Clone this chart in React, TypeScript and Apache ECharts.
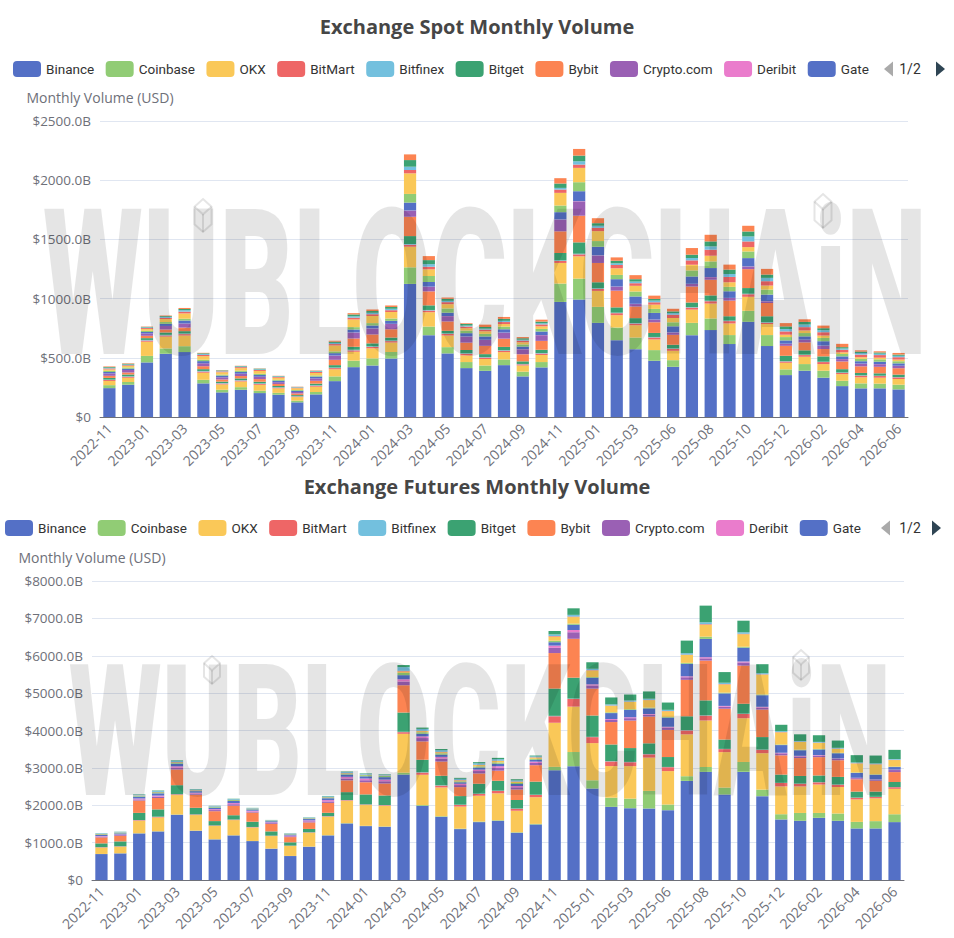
import React, { useEffect, useRef } from "react";
import * as echarts from "echarts";

const months = [
  "2022-11","2022-12","2023-01","2023-02","2023-03","2023-04","2023-05","2023-06","2023-07","2023-08",
  "2023-09","2023-10","2023-11","2023-12","2024-01","2024-02","2024-03","2024-04","2024-05","2024-06",
  "2024-07","2024-08","2024-09","2024-10","2024-11","2024-12","2025-01","2025-02","2025-03","2025-04",
  "2025-06","2025-07","2025-08","2025-09","2025-10","2025-11","2025-12","2026-01","2026-02","2026-03",
  "2026-04","2026-05","2026-06",
];

const exchanges = [
  "Binance","Coinbase","OKX","BitMart","Bitfinex","Bitget","Bybit","Crypto.com",
  "Deribit","Gate","HTX","Hyperliquid","Kraken","KuCoin","MEXC","Upbit",
];
// the first legend page shows ten names; "1/2" marks the pager
const legendPage1 = exchanges.slice(0, 10);
const pagerText = "1/2";

const spotYTicks = [0, 500, 1000, 1500, 2000, 2500];
const futYTicks = [0, 1000, 2000, 3000, 4000, 5000, 6000, 7000, 8000];

// Spot monthly volume (billion USD)
const spotBinance = [244,272,461,534,548,284,208,230,202,188,124,191,303,421,435,494,1124,691,537,413,390,438,343,419,972,992,795,649,573,475,424,691,734,616,804,599,354,391,332,261,242,242,233];
const spotCoinbase = [25,24,55,45,50,30,22,22,20,16,14,20,40,55,60,55,140,73,53,51,45,48,40,45,155,177,135,107,98,90,56,104,98,76,93,93,48,56,59,45,42,40,40];
const spotOKX = [35,36,120,100,90,60,45,48,50,38,30,45,60,75,85,80,174,121,98,56,55,62,52,60,174,188,135,104,104,90,79,112,126,98,118,93,56,62,56,56,51,50,48];
const spotBitMart = [8,8,10,10,12,10,8,8,8,6,5,8,10,12,12,12,17,14,14,14,12,12,10,12,17,17,17,17,14,17,17,17,20,20,22,11,11,14,17,11,14,14,14];
const spotBitfinex = [4,4,5,5,5,5,4,4,4,3,3,4,5,5,5,5,6,5,4,4,4,4,3,4,5,5,5,4,4,4,3,4,4,4,4,4,3,3,3,3,3,3,3];
const spotBitget = [14,14,15,20,20,15,12,14,14,11,9,14,20,25,25,25,67,39,22,28,25,28,22,28,62,96,51,45,42,34,31,39,45,37,48,51,45,37,45,28,20,20,20];
const spotBybit = [18,18,20,25,30,25,18,20,22,17,14,24,45,70,75,70,163,118,79,62,70,70,60,75,183,225,163,141,98,90,84,135,132,132,160,112,84,67,62,65,56,55,54];
const spotCryptoCom = [20,20,20,30,35,25,18,20,20,15,12,20,35,50,50,45,51,39,45,51,50,50,42,48,98,121,62,34,22,22,20,22,22,22,22,14,17,22,28,20,22,22,20];
const spotDeribit = [0,0,0,0,0,0,0,0,0,0,0,0,1,1,1,1,2,1,1,1,1,1,1,1,2,2,2,1,1,1,1,1,1,1,1,1,1,1,1,1,1,1,1];
const spotGate = [12,12,12,18,25,18,14,15,15,12,10,15,20,25,25,25,67,39,28,28,28,28,22,30,62,84,73,62,62,56,51,62,76,56,70,56,28,28,37,22,20,20,20];
const spotHTX = [10,10,10,15,15,12,9,10,10,8,7,10,15,20,20,20,73,51,36,22,22,22,18,22,56,76,48,36,42,34,34,51,56,37,56,42,28,28,28,20,20,20,18];
const spotHyperliquid = [12,12,15,25,45,30,20,22,24,18,15,21,50,65,60,55,174,56,36,20,22,22,18,22,107,121,84,56,48,36,36,48,48,39,37,34,20,22,20,14,14,14,14];
const spotKraken = [8,8,8,10,15,10,7,8,8,6,5,8,12,15,15,15,28,22,17,14,14,17,14,16,28,28,28,28,22,20,28,37,51,45,48,37,28,28,28,22,22,22,20];
const spotKuCoin = [6,6,6,8,12,8,5,6,6,5,4,6,10,12,12,12,28,22,11,8,8,10,8,10,14,28,17,14,14,14,14,20,28,25,42,28,20,22,17,11,14,12,12];
const spotMEXC = [6,6,4,7,10,6,4,4,5,3,2,4,10,15,15,15,56,34,17,14,14,17,12,14,37,48,22,22,20,14,14,28,42,37,42,28,22,22,17,11,11,10,10];
const spotUpbit = [5,5,3,5,9,4,2,2,2,2,2,3,8,11,13,13,48,34,11,6,20,16,10,16,45,56,42,28,34,28,22,56,56,42,48,48,28,22,22,28,11,10,14];

// Futures monthly volume (billion USD)
const futBinance = [694,712,1246,1299,1744,1317,1086,1193,1041,837,641,890,1193,1513,1442,1424,2821,1985,1691,1362,1549,1584,1264,1486,2937,3044,2448,1958,1922,1914,1869,2652,2893,2287,2893,2243,1620,1584,1664,1584,1380,1380,1549];
const futCoinbase = [3,3,5,5,8,5,4,4,4,3,3,4,5,8,8,8,50,20,15,12,15,15,12,15,90,380,220,245,255,470,150,125,130,185,265,175,140,210,130,195,175,195,210];
const futOKX = [170,175,335,370,520,415,355,405,360,335,265,370,495,600,555,555,1040,810,770,590,690,720,580,715,1180,1215,995,845,870,890,895,1120,1245,950,1170,975,745,710,760,710,600,610,680];
const futBitMart = [10,10,15,15,20,15,12,12,10,8,8,10,12,15,15,15,45,60,50,45,50,65,50,60,175,205,160,125,105,90,105,105,130,80,115,90,90,70,60,60,45,35,45];
const futBitfinex = [3,3,5,5,5,5,4,4,4,3,3,4,5,5,5,5,10,8,8,6,6,6,5,6,10,10,8,8,8,8,6,8,8,6,8,6,5,5,5,5,5,5,5];
const futBitget = [100,130,190,195,240,175,115,115,140,115,88,88,88,210,265,255,515,335,255,230,265,265,230,350,730,560,570,445,370,285,265,370,400,250,265,335,220,205,178,205,160,140,133];
const futBybit = [160,150,330,305,420,350,265,255,245,200,140,175,265,315,325,320,730,490,380,240,275,270,280,440,950,1040,720,600,735,715,725,975,1065,825,1020,735,515,478,490,445,330,290,265];
const futCryptoCom = [20,20,30,35,45,30,30,40,25,22,22,30,40,50,55,60,100,90,80,55,65,75,60,60,140,175,85,55,65,50,65,70,60,55,85,55,55,45,40,35,30,25,55];
const futDeribit = [15,15,25,30,40,25,25,30,25,20,20,25,35,45,45,45,60,45,45,35,40,45,35,35,60,60,30,25,25,20,20,25,30,20,25,20,15,15,15,12,10,10,10];
const futGate = [30,30,50,60,70,40,40,55,35,30,28,35,50,60,60,65,110,70,60,40,55,65,50,50,90,140,175,160,195,150,245,335,490,335,370,310,205,150,150,140,130,125,70];
const futHTX = [20,20,25,30,35,20,20,25,18,15,14,18,25,30,30,30,60,40,35,25,30,35,30,25,40,30,20,20,20,20,20,25,60,20,25,20,15,15,15,12,12,12,12];
const futHyperliquid = [0,0,0,0,0,0,0,0,0,0,0,0,0,5,5,5,40,30,30,25,35,40,35,35,110,175,175,175,195,200,150,210,320,220,335,530,325,205,160,105,240,265,175];
const futKraken = [5,5,8,8,10,8,6,6,5,4,3,5,6,8,8,8,15,10,10,8,8,8,7,7,15,15,10,8,8,8,8,10,15,10,12,10,8,8,8,8,8,8,8];
const futKuCoin = [15,15,20,25,30,18,15,20,12,10,10,14,20,25,25,25,100,50,45,35,40,40,30,25,45,45,35,30,30,30,30,40,50,35,40,30,25,20,20,20,20,20,20];
const futMEXC = [5,5,10,12,15,10,8,10,6,5,5,7,10,12,12,12,55,35,30,25,30,35,25,20,90,175,175,185,160,195,195,335,445,285,310,240,170,178,178,195,195,210,245];
const futUpbit = [0,0,0,0,0,0,0,0,0,0,0,0,0,0,0,0,0,0,0,0,0,0,0,0,0,0,0,0,0,0,0,0,0,0,0,0,0,0,0,0,0,0,0];

const spotSeries = [spotBinance, spotCoinbase, spotOKX, spotBitMart, spotBitfinex, spotBitget, spotBybit, spotCryptoCom, spotDeribit, spotGate, spotHTX, spotHyperliquid, spotKraken, spotKuCoin, spotMEXC, spotUpbit];
const futSeries = [futBinance, futCoinbase, futOKX, futBitMart, futBitfinex, futBitget, futBybit, futCryptoCom, futDeribit, futGate, futHTX, futHyperliquid, futKraken, futKuCoin, futMEXC, futUpbit];

const palette = ["#5470c6", "#91cc75", "#fac858", "#ee6666", "#73c0de", "#3ba272", "#fc8452", "#9a60b4", "#ea7ccc"];

const FONT = "'Open Sans', 'Noto Sans', sans-serif";
const LEGEND_FONT = "Roboto, 'Open Sans', sans-serif";
const WM_FILL = "rgba(0,0,0,0.1)";

function fmtMoney(v: number) {
  return v === 0 ? "$0" : "$" + v.toFixed(1) + "B";
}

function cube(cx: number, top: number, w: number, h: number) {
  const hw = w / 2;
  const d = w * 0.45;
  return [
    {
      type: "polygon",
      z: 101,
      silent: true,
      shape: {
        points: [
          [cx, top], [cx + hw, top + d], [cx + hw, top + h - d], [cx, top + h], [cx - hw, top + h - d], [cx - hw, top + d],
        ],
      },
      style: { fill: "none", stroke: WM_FILL, lineWidth: 2 },
    },
    {
      type: "polyline",
      z: 101,
      silent: true,
      shape: { points: [[cx - hw, top + d], [cx, top + 2 * d], [cx + hw, top + d]] },
      style: { fill: "none", stroke: WM_FILL, lineWidth: 2 },
    },
    {
      type: "line",
      z: 101,
      silent: true,
      shape: { x1: cx, y1: top + 2 * d, x2: cx, y2: top + h },
      style: { stroke: WM_FILL, lineWidth: 2 },
    },
  ];
}

function watermark(cx: number, cy: number, fontSize: number, sy: number) {
  return {
    type: "text",
    x: cx,
    y: cy,
    scaleY: sy,
    z: 100,
    silent: true,
    style: {
      text: "WUBLOCKCHAiN",
      fontFamily: "Roboto, 'Liberation Sans', Arial, sans-serif",
      fontWeight: 900,
      fontSize,
      fill: WM_FILL,
      align: "center",
      verticalAlign: "middle",
      textAlign: "center",
      textVerticalAlign: "middle",
    },
  };
}

function pager(leftArrowX: number, textX: number, rightArrowX: number, cy: number) {
  const h = 15;
  const w = 9;
  return [
    {
      type: "polygon",
      silent: true,
      shape: { points: [[leftArrowX, cy], [leftArrowX + w, cy - h / 2], [leftArrowX + w, cy + h / 2]] },
      style: { fill: "#aaa" },
    },
    {
      type: "text",
      silent: true,
      x: textX,
      y: cy,
      style: {
        text: pagerText,
        fontFamily: LEGEND_FONT,
        fontSize: 14,
        fill: "#333",
        align: "center",
        verticalAlign: "middle",
        textAlign: "center",
        textVerticalAlign: "middle",
      },
    },
    {
      type: "polygon",
      silent: true,
      shape: { points: [[rightArrowX + w, cy], [rightArrowX, cy - h / 2], [rightArrowX, cy + h / 2]] },
      style: { fill: "#2f4554" },
    },
  ];
}

function legendFor(top: number, left: number) {
  return {
    type: "plain",
    top,
    left,
    itemWidth: 28,
    itemHeight: 16,
    itemGap: 11.5,
    icon: "roundRect",
    textStyle: { fontSize: 13.5, color: "#333", fontFamily: LEGEND_FONT },
    data: legendPage1,
  };
}

function xAxisFor(gridIndex: number) {
  return {
    type: "category",
    gridIndex,
    data: months,
    axisLine: { lineStyle: { color: "#6e7079" } },
    axisTick: { length: 6, lineStyle: { color: "#6e7079" } },
    axisLabel: {
      interval: 1,
      rotate: 45,
      fontSize: 14,
      color: "#6e7079",
      margin: 9,
      fontFamily: FONT,
    },
  };
}

function yAxisFor(gridIndex: number, ticks: number[]) {
  const interval = ticks[1] - ticks[0];
  return {
    type: "value",
    gridIndex,
    min: ticks[0],
    max: ticks[ticks.length - 1],
    interval,
    name: "Monthly Volume (USD)",
    nameGap: 17,
    nameTextStyle: { color: "#6e7079", fontSize: 14, fontFamily: FONT },
    axisLabel: { formatter: fmtMoney, fontSize: 13.5, color: "#6e7079", margin: 9, fontFamily: FONT },
    splitLine: { lineStyle: { color: "#E0E6F1" } },
  };
}

export default function App() {
  const ref = useRef<HTMLDivElement>(null);

  useEffect(() => {
    document.body.style.margin = "0";
    if (!ref.current) return;
    const chart = echarts.init(ref.current, undefined, { renderer: "svg" });

    const series: any[] = [];
    exchanges.forEach((name, i) => {
      series.push({
        name,
        type: "bar",
        stack: "spot",
        xAxisIndex: 0,
        yAxisIndex: 0,
        barWidth: "65%",
        color: palette[i % palette.length],
        data: spotSeries[i],
      });
    });
    exchanges.forEach((name, i) => {
      series.push({
        name,
        type: "bar",
        stack: "futures",
        xAxisIndex: 1,
        yAxisIndex: 1,
        barWidth: "65%",
        color: palette[i % palette.length],
        data: futSeries[i],
      });
    });

    chart.setOption({
      animation: false,
      textStyle: { fontFamily: FONT },
      title: [
        {
          text: "Exchange Spot Monthly Volume",
          left: "center",
          top: 11,
          textStyle: { fontSize: 20, fontWeight: "bold", color: "#464646", fontFamily: FONT },
        },
        {
          text: "Exchange Futures Monthly Volume",
          left: "center",
          top: 471,
          textStyle: { fontSize: 20, fontWeight: "bold", color: "#464646", fontFamily: FONT },
        },
      ],
      legend: [legendFor(56, 8), legendFor(515, 0)],
      grid: [
        { left: 100, right: 46, top: 121, height: 296, containLabel: false },
        { left: 92, right: 50, top: 581, height: 299, containLabel: false },
      ],
      xAxis: [xAxisFor(0), xAxisFor(1)],
      yAxis: [yAxisFor(0, spotYTicks), yAxisFor(1, futYTicks)],
      graphic: [
        watermark(485, 284, 115, 1.78),
        ...cube(203, 199, 17, 33),
        ...cube(823, 194, 17, 34),
        watermark(480, 732, 107, 1.72),
        ...cube(212, 656, 16, 28),
        ...cube(801, 650, 16, 30),
        ...pager(884, 910, 936, 69),
        ...pager(881, 910, 932, 528),
      ],
      series,
    });

    return () => {
      chart.dispose();
    };
  }, []);

  return <div ref={ref} style={{ width: 954, height: 938 }} />;
}
